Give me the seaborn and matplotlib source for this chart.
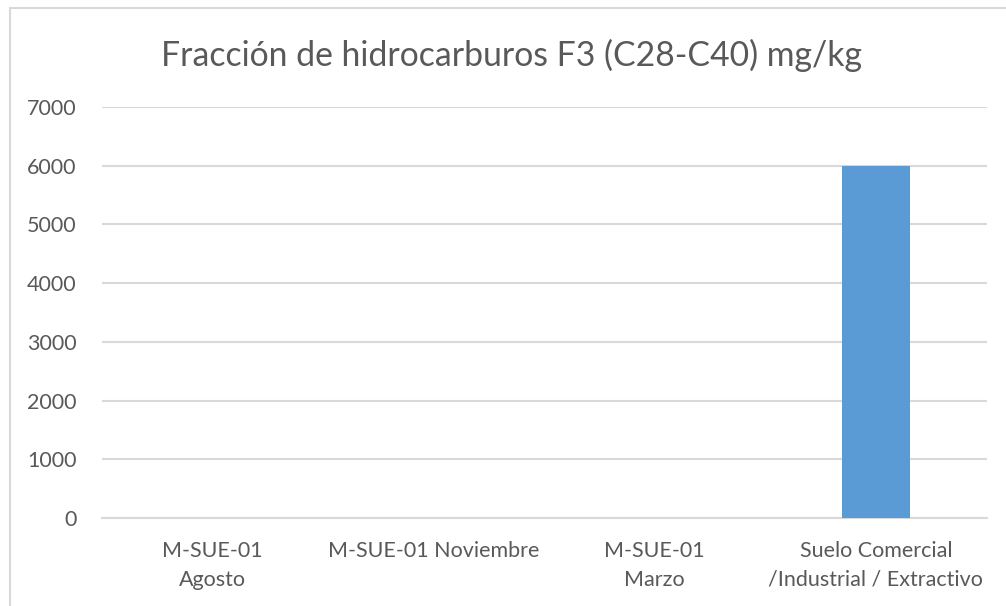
import matplotlib
matplotlib.use("Agg")
import matplotlib.pyplot as plt
import seaborn as sns
import pandas as pd
from matplotlib.patches import Rectangle

categories = ["M-SUE-01\nAgosto", "M-SUE-01 Noviembre", "M-SUE-01\nMarzo",
              "Suelo Comercial\n/Industrial / Extractivo"]
values = [0, 0, 0, 6000]
y_ticks = [0, 1000, 2000, 3000, 4000, 5000, 6000, 7000]
title = "Fracción de hidrocarburos F3 (C28-C40) mg/kg"

sns.set_theme(style="white")
plt.rcParams['font.family'] = ['Lato', 'DejaVu Sans']

df = pd.DataFrame({"cat": categories, "val": values})

fig = plt.figure(figsize=(10.06, 6.06), dpi=100)
ax = fig.add_axes([101.5/1006, 1-518/606, 885/1006, 411/606])

sns.barplot(data=df, x="cat", y="val", color="#5b9bd5", width=0.31,
            saturation=1, ax=ax, zorder=3, linewidth=0)

ax.set_ylim(0, 7000)
ax.set_yticks(y_ticks)
ax.set_yticklabels([str(t) for t in y_ticks])
ax.set_xlim(-0.5, 3.5)
ax.yaxis.grid(True, color="#d9d9d9", linewidth=1.5, zorder=0)
ax.set_axisbelow(True)
for s in ["left", "right", "top"]:
    ax.spines[s].set_visible(False)
ax.spines["bottom"].set_color("#d9d9d9")
ax.spines["bottom"].set_linewidth(1.5)
ax.tick_params(axis="y", length=0, pad=18, labelsize=15.5, labelcolor="#595959")
ax.tick_params(axis="x", length=0, pad=16.5, labelsize=15.5, labelcolor="#595959")
for lbl in ax.get_xticklabels():
    lbl.set_horizontalalignment("center")
    lbl.set_linespacing(1.55)
ax.set_xlabel("")
ax.set_ylabel("")

fig.text(512/1006, 1-55/606, title, ha="center", va="center",
         fontsize=24.3, color="#595959")

fig.patches.append(Rectangle((10/1006, -0.1), 1.2, 1.1 - 8/606,
                             transform=fig.transFigure, fill=False,
                             edgecolor="#d9d9d9", linewidth=1.5, zorder=0))

fig.savefig("out.png", dpi=100)
